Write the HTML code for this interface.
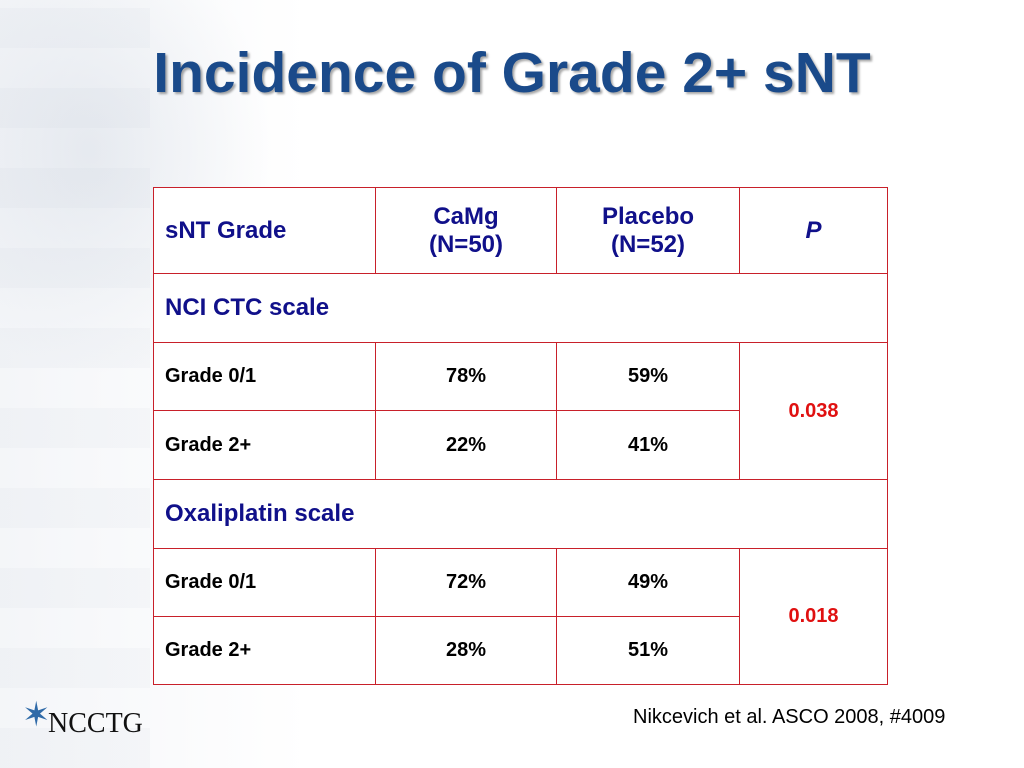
<!DOCTYPE html>
<html><head><meta charset="utf-8"><style>
html,body{margin:0;padding:0}
body{width:1024px;height:768px;position:relative;overflow:hidden;background:#fff;font-family:"Liberation Sans",Arial,sans-serif}
.bg{position:absolute;inset:0;background:
 radial-gradient(ellipse 260px 320px at 90px 150px,rgba(190,200,215,.3),rgba(255,255,255,0) 70%),
 linear-gradient(90deg,rgba(200,208,222,.2),rgba(255,255,255,0) 30%);}
.bg2{position:absolute;left:0;top:0;width:150px;height:768px;background:repeating-linear-gradient(0deg,rgba(180,190,205,.08) 0 40px,rgba(255,255,255,0) 40px 80px)}
h1{position:absolute;left:0;width:1024px;top:40px;margin:0;text-align:center;font-size:57px;font-weight:bold;color:#1a4a8a;text-shadow:2px 2px 2px rgba(0,0,0,.35)}
table{position:absolute;left:153px;top:187px;border-collapse:collapse;table-layout:fixed;width:734px;background:#fff}
td{border:1.5px solid #c8202a;padding:0 0 0 11px;font-size:20px;color:#000;font-weight:bold;box-sizing:border-box}
.h{color:#10108a;font-size:24px}
.c{text-align:center;padding:0}
.sec{color:#10108a;font-size:24px}
.p{color:#e01010;text-align:center;padding:0}
.cite{position:absolute;left:633px;top:706px;font-size:20px;color:#000}
.logo{position:absolute;left:48px;top:708px;font-family:"Liberation Serif",serif;font-size:28px;color:#111}
.star{position:absolute;left:22px;top:698px;font-size:34px;color:#2f6aa8;line-height:1}
</style></head><body>
<div class="bg"></div>
<div class="bg2"></div>
<h1>Incidence of Grade 2+ sNT</h1>
<table>
<colgroup><col style="width:222px"><col style="width:181px"><col style="width:183px"><col style="width:148px"></colgroup>
<tr style="height:86px">
<td class="h">sNT Grade</td>
<td class="h c">CaMg<br>(N=50)</td>
<td class="h c">Placebo<br>(N=52)</td>
<td class="h c" style="font-style:italic">P</td></tr>
<tr style="height:69px"><td colspan="4" class="sec">NCI CTC scale</td></tr>
<tr style="height:68px"><td>Grade 0/1</td><td class="c">78%</td><td class="c">59%</td><td rowspan="2" class="p">0.038</td></tr>
<tr style="height:69px"><td>Grade 2+</td><td class="c">22%</td><td class="c">41%</td></tr>
<tr style="height:69px"><td colspan="4" class="sec">Oxaliplatin scale</td></tr>
<tr style="height:68px"><td>Grade 0/1</td><td class="c">72%</td><td class="c">49%</td><td rowspan="2" class="p">0.018</td></tr>
<tr style="height:68px"><td>Grade 2+</td><td class="c">28%</td><td class="c">51%</td></tr>
</table>
<div class="cite">Nikcevich et al. ASCO 2008, #4009</div>
<div class="star">✶</div>
<div class="logo">NCCTG</div>
</body></html>
